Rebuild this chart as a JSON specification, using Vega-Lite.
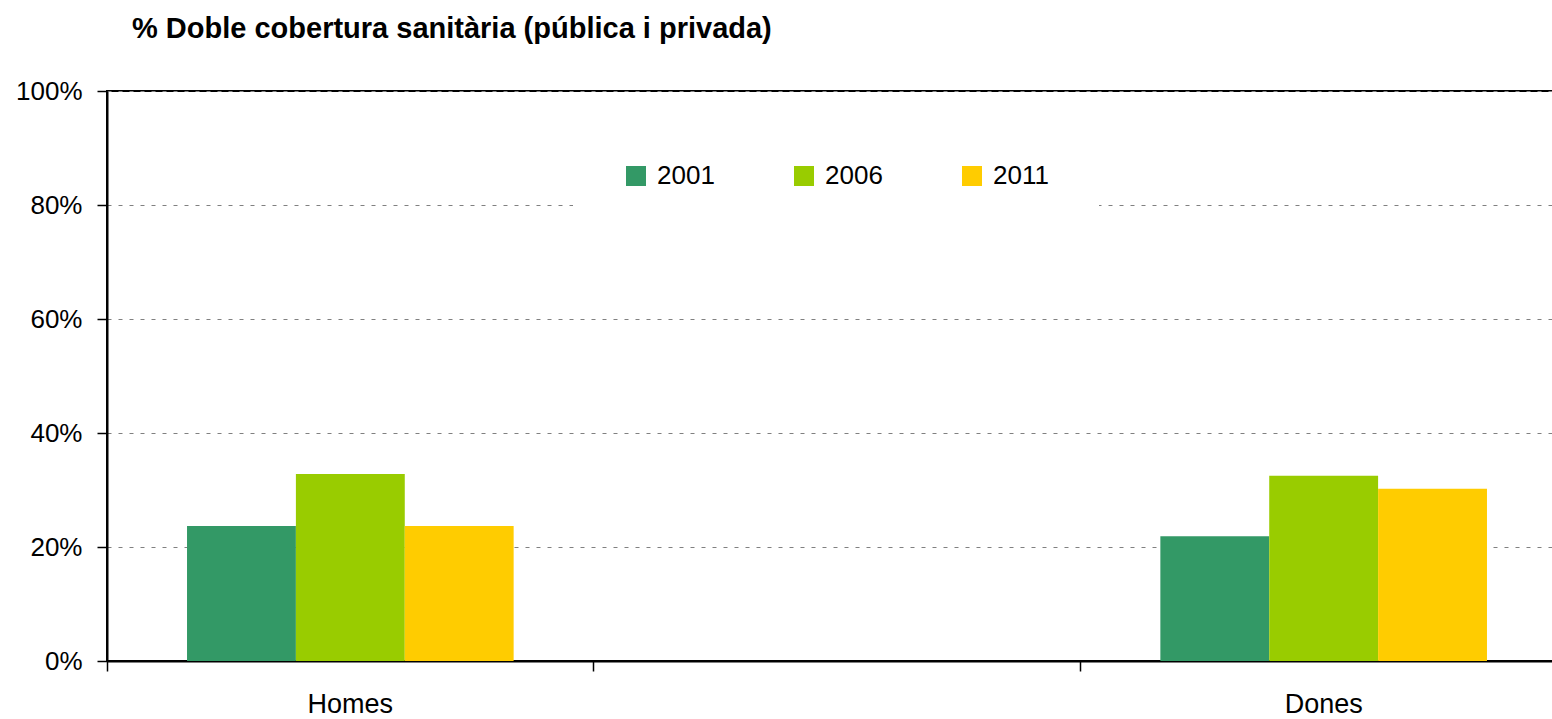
{
  "$schema": "https://vega.github.io/schema/vega-lite/v6.json",
  "width": 1460,
  "height": 570,
  "padding": {"left": 15, "top": 15, "right": 0, "bottom": 0},
  "background": "white",
  "title": {
    "text": "% Doble cobertura sanitària (pública i privada)",
    "anchor": "start",
    "frame": "group",
    "font": "Liberation Sans",
    "fontSize": 29,
    "fontWeight": "bold",
    "color": "black",
    "dx": 25,
    "offset": 34
  },
  "data": {
    "values": [
      {"sexe": "Homes", "any": "2001", "pct": 0.237},
      {"sexe": "Homes", "any": "2006", "pct": 0.328},
      {"sexe": "Homes", "any": "2011", "pct": 0.237},
      {"sexe": "Dones", "any": "2001", "pct": 0.219},
      {"sexe": "Dones", "any": "2006", "pct": 0.325},
      {"sexe": "Dones", "any": "2011", "pct": 0.302}
    ]
  },
  "mark": {"type": "bar"},
  "encoding": {
    "x": {
      "field": "sexe",
      "type": "nominal",
      "scale": {"domain": ["Homes", " ", "Dones"], "paddingInner": 0, "paddingOuter": 0},
      "axis": {
        "title": null,
        "bandPosition": 0,
        "labelAngle": 0,
        "labelFont": "Liberation Sans",
        "labelFontSize": 27,
        "labelColor": "black",
        "labelPadding": 20,
        "tickSize": 10,
        "tickColor": "black",
        "tickWidth": 1.5,
        "domainColor": "black",
        "domainWidth": 2,
        "grid": false
      }
    },
    "xOffset": {
      "field": "any",
      "type": "nominal",
      "scale": {"paddingInner": 0, "paddingOuter": 0.735}
    },
    "y": {
      "field": "pct",
      "type": "quantitative",
      "scale": {"domain": [0, 1], "nice": false},
      "axis": {
        "title": null,
        "format": ".0%",
        "values": [0, 0.2, 0.4, 0.6, 0.8, 1],
        "labelFont": "Liberation Sans",
        "labelFontSize": 26,
        "labelColor": "black",
        "labelPadding": 15,
        "tickSize": 10,
        "tickColor": "black",
        "tickWidth": 1.5,
        "domainColor": "black",
        "domainWidth": 2,
        "grid": true,
        "gridColor": "#808080",
        "gridDash": [4, 7],
        "gridWidth": 1
      }
    },
    "color": {
      "field": "any",
      "type": "nominal",
      "scale": {"domain": ["2001", "2006", "2011"], "range": ["#339966", "#99CC00", "#FFCC00"]},
      "legend": {
        "title": null,
        "orient": "none",
        "legendX": 466,
        "legendY": 22,
        "direction": "horizontal",
        "fillColor": "white",
        "padding": 50,
        "symbolType": "square",
        "symbolSize": 400,
        "symbolStrokeWidth": 0,
        "labelFont": "Liberation Sans",
        "labelFontSize": 26,
        "labelColor": "black",
        "labelOffset": 8,
        "columnPadding": 76
      }
    }
  },
  "config": {
    "view": {"stroke": "black", "strokeWidth": 2}
  }
}
